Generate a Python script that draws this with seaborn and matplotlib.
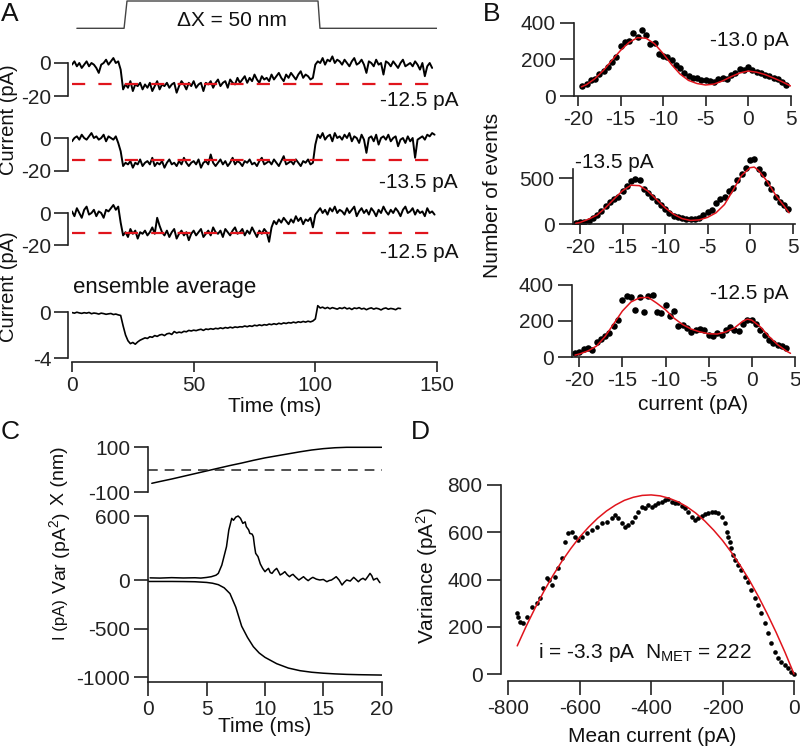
import numpy as np
import pandas as pd
import matplotlib
matplotlib.use("Agg")
import matplotlib.pyplot as plt
import seaborn as sns

# ---------------- data ----------------
# Panel A: stimulus (time ms, displacement nm)
stim_t = [2, 21.4, 22.6, 101.1, 101.9, 150]
stim_x = [0, 0, 50, 50, 0, 0]

# Panel A: single-channel traces, 1 ms sampling (pA)
trace1 = [-1, 1, -2, 0, -3, -1, 1, -2, 0, -1,
          -3, -6, -1, 0, 2, -1, 1, 3, 0, 1,
          -4, -16, -13, -15, -11, -17, -13, -14, -12, -16,
          -13, -15, -12, -17, -14, -11, -16, -13, -14, -12,
          -15, -13, -12, -18, -14, -11, -13, -16, -12, -14,
          -11, -15, -13, -12, -17, -12, -13, -11, -15, -12,
          -10, -14, -12, -11, -15, -10, -12, -13, -9, -12,
          -10, -8, -12, -9, -11, -7, -10, -12, -8, -10,
          -9, -11, -7, -10, -8, -6, -9, -11, -7, -9,
          -6, -8, -10, -7, -5, -9, -7, -8, -10, -9,
          -1, 1, 0, 3, -1, 2, 1, 4, 0, 2,
          1, -1, 2, 0, -2, 1, 3, -1, 0, 2,
          -1, -6, 1, 0, -2, 2, -1, 0, -7, 1,
          0, -2, 1, -1, -3, 0, 2, -2, -1, 0,
          -2, 1, -1, -4, 0, -8, -2, 0, -3]
trace2 = [-2, 0, 1, -1, 2, 0, -1, 1, 3, 0,
          1, -1, 0, 2, -2, 1, 0, -1, 1, -3,
          -8, -17, -15, -16, -14, -18, -15, -16, -13, -17,
          -15, -14, -16, -12, -17, -15, -16, -14, -18, -15,
          -13, -16, -15, -17, -14, -16, -12, -15, -17, -15,
          -14, -16, -13, -18, -15, -14, -16, -10, -15, -17,
          -15, -13, -16, -14, -17, -15, -12, -16, -14, -15,
          -17, -14, -15, -13, -16, -15, -17, -14, -12, -16,
          -15, -14, -16, -13, -15, -17, -14, -11, -16, -15,
          -14, -16, -13, -15, -17, -14, -15, -13, -16, -15,
          -4, 2, 0, 3, -1, 1, 2, -2, 3, 0,
          1, -1, 2, 0, 3, -2, 1, 0, -3, 2,
          -1, -9, 0, 1, -2, 2, -4, 0, 1, -1,
          2, -2, 0, 1, -5, -1, 0, -3, 1, -2,
          0, -12, -1, 0, 1, -1, 2, 1, 3, 2]
trace3 = [1, -2, 3, 0, -3, 2, 4, -1, 0, 2,
          -2, 1, 0, -3, 2, 1, 3, 5, 2, 4,
          -6, -14, -12, -15, -10, -13, -11, -16, -12, -13,
          -11, -14, -12, -9, -13, -3, -8, -12, -14, -11,
          -15, -12, -10, -16, -13, -11, -14, -12, -17, -13,
          -11, -14, -12, -10, -15, -13, -11, -14, -9, -12,
          -13, -11, -15, -10, -12, -14, -11, -9, -13, -12,
          -10, -14, -11, -13, -9, -12, -15, -11, -13, -10,
          -12, -18, -9, -5, -7, -4, -6, -3, -5, -7,
          -4, -6, -2, -5, -3, -7, -4, -5, -3, -9,
          -1, 1, 3, 0, 2, -1, 3, 1, 4, 0,
          2, 1, -1, 3, 0, 2, 4, -2, 1, 3,
          0, 2, -1, 3, 1, -2, 2, 0, 4, 1,
          -1, 2, 0, 3, 1, -2, 2, 4, 0, 1,
          3, -1, 2, 0, 1, -2, 3, 0, 1, -1]
unitary = [-12.5, -13.5, -12.5]
unitary_labels = ["-12.5 pA", "-13.5 pA", "-12.5 pA"]

ensemble = [-0.05, -0.1, -0.02, -0.08, -0.12, -0.06, -0.1, -0.04, -0.15, -0.09,
            -0.12, -0.18, -0.1, -0.14, -0.2, -0.16, -0.13, -0.22, -0.18, -0.25,
            -0.3, -1.2, -2.0, -2.5, -2.75, -2.65, -2.8, -2.6, -2.45, -2.35,
            -2.25, -2.3, -2.15, -2.2, -2.05, -2.12, -2.0, -1.95, -2.05, -1.9,
            -1.85, -1.95, -1.7, -1.82, -1.75, -1.8, -1.68, -1.72, -1.6, -1.65,
            -1.58, -1.62, -1.55, -1.5, -1.6, -1.48, -1.52, -1.45, -1.5, -1.42,
            -1.46, -1.38, -1.44, -1.35, -1.4, -1.32, -1.38, -1.3, -1.34, -1.28,
            -1.3, -1.22, -1.28, -1.2, -1.25, -1.15, -1.2, -1.12, -1.18, -1.1,
            -1.14, -1.05, -1.1, -1.02, -1.08, -0.98, -1.04, -0.95, -1.0, -0.92,
            -0.96, -0.88, -0.94, -0.85, -0.9, -0.82, -0.88, -0.8, -0.86, -0.78,
            -0.6, 0.55, 0.35, 0.42, 0.3, 0.4, 0.28, 0.38, 0.32, 0.25,
            0.36, 0.3, 0.4, 0.27, 0.34, 0.22, 0.35, 0.3, 0.38, 0.26,
            0.32, 0.2, 0.3, 0.36, 0.25, 0.33, 0.28, 0.18, 0.3, 0.35,
            0.24, 0.31, 0.27, 0.2, 0.33, 0.3]

# Panel B: amplitude histograms (current pA, number of events) and fits
B1_current = np.arange(-19.5, 4.6, 0.5)
B1_events = [55, 68, 85, 95, 120, 138, 160, 185, 215, 270,
             292, 300, 345, 320, 362, 330, 285, 290, 230, 220,
             215, 195, 170, 150, 125, 110, 98, 100, 88, 85,
             80, 75, 90, 100, 95, 115, 125, 145, 140, 160,
             140, 132, 125, 115, 108, 100, 92, 78, 62]
B1_fit_x = [-19.6, -19, -18, -17, -16, -15, -14, -13, -12, -11, -10, -9, -8,
            -7, -6, -5, -4, -3, -2, -1, 0, 1, 2, 3, 4, 5]
B1_fit_y = [50, 62, 95, 140, 195, 248, 292, 318, 315, 285, 232, 172, 120,
            85, 68, 60, 65, 82, 105, 125, 136, 130, 117, 98, 78, 55]

B2_current = np.arange(-20.5, 4.6, 0.5)
B2_events = [10, 22, 30, 40, 65, 100, 150, 195, 240, 280,
             300, 360, 420, 470, 495, 480, 380, 340, 300, 250,
             205, 165, 120, 95, 80, 66, 60, 55, 60, 70,
             100, 135, 155, 230, 275, 300, 360, 390, 480, 545,
             610, 700, 710, 600, 550, 450, 380, 300, 240, 205, 170]
B2_fit_x = [-20.5, -20, -19, -18, -17, -16, -15, -14, -13, -12, -11, -10, -9, -8,
            -7, -6, -5, -4, -3, -2, -1, 0, 0.5, 1, 2, 3, 4, 4.6]
B2_fit_y = [12, 20, 55, 100, 180, 275, 365, 425, 420, 360, 270, 180, 110, 62,
            42, 48, 75, 125, 215, 370, 530, 615, 622, 585, 470, 320, 200, 125]

B3_current = np.arange(-20.5, 4.1, 0.5)
B3_events = [25, 30, 45, 52, 38, 85, 100, 115, 135, 175,
             205, 315, 335, 330, 260, 330, 250, 340, 345, 250,
             245, 290, 230, 255, 170, 180, 160, 140, 150, 158,
             150, 125, 115, 135, 125, 150, 165, 150, 145, 185,
             208, 207, 185, 150, 125, 98, 80, 68, 60, 52]
B3_fit_x = [-20.5, -20, -19, -18, -17, -16, -15, -14, -13, -12, -11, -10, -9, -8,
            -7, -6, -5, -4, -3, -2, -1, -0.5, 0, 1, 2, 3, 4, 4.5]
B3_fit_y = [12, 18, 35, 62, 115, 185, 255, 305, 328, 330, 298, 262, 215, 180,
            155, 140, 130, 128, 140, 162, 200, 210, 205, 168, 115, 70, 35, 22]
B_labels = ["-13.0 pA", "-13.5 pA", "-12.5 pA"]

# Panel C: displacement, variance and current vs time
C_x_t = [0.3, 1, 2, 3, 4, 5, 6, 7, 8, 9, 10, 11, 12, 13, 14, 15, 16, 17, 18, 19, 20]
C_x_nm = [-60, -52, -41, -29, -17, -5, 7, 19, 30, 42, 53, 62, 71, 80, 88, 94, 98,
          100, 100, 100, 100]
C_var_t = [0.15, 1, 2, 3, 4, 4.5, 5.0, 5.4, 5.8, 6.0, 6.3, 6.7, 6.9, 7.15, 7.3, 7.5,
           7.7, 7.9, 8.1, 8.3, 8.4, 8.6, 8.7, 8.9, 9.0, 9.1, 9.2, 9.4, 9.6, 9.8,
           10.0, 10.15, 10.3, 10.45, 10.6, 10.8, 11.0, 11.15, 11.3, 11.5, 11.7, 11.9,
           12.1, 12.25, 12.4, 12.6, 12.9, 13.1, 13.3, 13.5, 13.7, 13.9, 14.1, 14.4,
           14.7, 15.0, 15.3, 15.5, 15.7, 15.9, 16.1, 16.35, 16.6, 16.8, 17.0, 17.3,
           17.6, 17.8, 18.0, 18.2, 18.4, 18.6, 18.8, 19.0, 19.15, 19.3, 19.45, 19.6,
           19.75, 19.85]
C_var = [20, 18, 22, 19, 21, 18, 24, 31, 45, 62, 140, 312, 469, 578, 560, 590,
         600, 578, 531, 545, 500, 470, 437, 430, 406, 320, 250, 219, 150, 109,
         78, 95, 109, 70, 62, 90, 109, 80, 47, 60, 78, 50,
         31, 45, 53, 30, 0, 15, 31, 10, -6, 12, 25, 8,
         0, 5, -16, -5, 0, 15, 31, 0, -47, -20, 0, -10,
         25, 5, -16, 5, 16, 0, 30, 62, 40, 0, 10, 16,
         -10, -25]
C_i_t = [0, 1, 2, 3, 4, 5, 5.5, 6, 6.5, 7, 7.5, 8, 8.5, 9, 9.5, 10, 11, 12, 13, 14,
         15, 16, 17, 18, 19, 20]
C_i = [-15, -15, -15, -16, -18, -25, -33, -48, -80, -140, -280, -475, -590, -685,
       -750, -795, -860, -905, -932, -948, -958, -965, -970, -973, -975, -977]

# Panel D: variance vs mean current, and parabolic fit
D_mean = [-777, -772, -768, -758, -749, -735, -721, -712, -702, -693,
          -685, -679, -670, -661, -651, -642, -632, -623, -614, -605,
          -595, -581, -567, -553, -539, -525, -511, -502, -493, -483,
          -474, -465, -455, -446, -437, -427, -418, -409, -399, -390,
          -381, -371, -362, -353, -343, -334, -325, -315, -306, -297,
          -287, -278, -269, -259, -250, -241, -231, -222, -213, -203,
          -194, -189, -185, -180, -176, -171, -166, -157, -148, -138,
          -129, -120, -110, -101, -92, -82, -73, -64, -54, -45,
          -36, -26, -17, -8, 0]
D_var = [257, 243, 222, 215, 243, 285, 300, 321, 363, 405,
         398, 377, 412, 448, 490, 560, 596, 603, 582, 568,
         582, 596, 610, 624, 638, 645, 659, 673, 659, 638,
         624, 631, 645, 666, 687, 708, 701, 716, 708, 716,
         723, 730, 737, 740, 730, 723, 723, 712, 701, 687,
         666, 652, 659, 669, 678, 683, 687, 687, 680, 666,
         638, 603, 582, 560, 532, 504, 483, 462, 441, 412,
         391, 356, 321, 292, 257, 215, 172, 130, 95, 66,
         52, 38, 24, 10, 0]
D_fit_x = np.arange(-775, 1, 25)
D_fit_y = [119, 202, 279, 351, 417, 477, 531, 580, 622, 659,
           690, 715, 735, 748, 756, 758, 754, 744, 729, 708,
           681, 648, 609, 565, 514, 458, 397, 329, 255, 176,
           91, 0]

# ---------------- style ----------------
sns.set_theme(style="ticks")
plt.rcParams.update({
    "font.family": ["Liberation Sans", "DejaVu Sans"],
    "axes.unicode_minus": False,
    "mathtext.default": "regular",
    "lines.scale_dashes": False,
    "axes.linewidth": 1.2,
    "axes.edgecolor": "#222222",
    "xtick.color": "#222222",
    "ytick.color": "#222222",
    "text.color": "#111111",
    "axes.labelcolor": "#111111",
})
RED = "#e0141c"
FS = 15

W, H = 800, 750
fig = plt.figure(figsize=(8, 7.5), dpi=100)
limits = []


def make_ax(left, right, top, bottom, xmap, ymap):
    ax = fig.add_axes([left / W, 1 - bottom / H, (right - left) / W, (bottom - top) / H])
    (xv0, xp0), (xv1, xp1) = xmap
    bx = (xp1 - xp0) / (xv1 - xv0)
    xl = (xv0 + (left - xp0) / bx, xv0 + (right - xp0) / bx)
    (yv0, yp0), (yv1, yp1) = ymap
    by = (yp1 - yp0) / (yv1 - yv0)
    yl = (yv0 + (bottom - yp0) / by, yv0 + (top - yp0) / by)
    ax.patch.set_alpha(0)
    for s in ("top", "right"):
        ax.spines[s].set_visible(False)
    ax.tick_params(axis="y", length=10, width=1.2, pad=3, labelsize=FS)
    ax.tick_params(axis="x", length=7, width=1.2, pad=3, labelsize=FS)
    limits.append((ax, xl, yl))
    return ax


def ftext(x, y, s, **kw):
    kw.setdefault("fontsize", FS)
    fig.text(x / W, 1 - y / H, s, **kw)


def line(ax, x, y, **kw):
    sns.lineplot(x=list(x), y=list(y), ax=ax, estimator=None, sort=False, **kw)


# ---------------- Panel A ----------------
xA = ((0, 72), (150, 437))
ax_s = make_ax(72, 437, 0, 30, xA, ((0, 28.3), (50, 1)))
line(ax_s, stim_t, stim_x, color="#444444", lw=1.0)
for s in ax_s.spines.values():
    s.set_visible(False)
ax_s.set_xticks([])
ax_s.set_yticks([])
ftext(232, 20, "ΔX = 50 nm", ha="center", va="center")

trace_rows = [(63, 96, 40, 105, 100), (138, 171, 115, 180, 182), (213, 245, 190, 255, 252)]
for tr, (p0, p20, top, bot, ly), u, lab in zip([trace1, trace2, trace3], trace_rows,
                                               unitary, unitary_labels):
    ax = make_ax(72, 437, top, bot, xA, ((0, p0), (-20, p20)))
    t = np.arange(len(tr))
    line(ax, t, tr, color="black", lw=1.4)
    line(ax, [0, 148], [u, u], color=RED, lw=1.6, linestyle=(0, (9.5, 9.5)))
    ax.spines["bottom"].set_visible(False)
    ax.set_xticks([])
    ax.spines["left"].set_bounds(-20, 0)
    ax.spines["left"].set_position(("outward", 3))
    ax.set_yticks([0, -20])
    ax.set_yticklabels(["0", "-20"])
    ax.tick_params(axis="y", pad=2)
    ftext(458, ly, lab, ha="right", va="center")

ax_e = make_ax(72, 437, 300, 362, xA, ((0, 312), (-4, 358)))
line(ax_e, np.arange(len(ensemble)), ensemble, color="black", lw=1.2)
ax_e.spines["left"].set_bounds(-4, 0)
ax_e.spines["left"].set_position(("outward", 3))
ax_e.set_yticks([0, -4])
ax_e.set_yticklabels(["0", "-4"])
ax_e.tick_params(axis="y", pad=2)
ax_e.spines["bottom"].set_bounds(0, 150)
ax_e.set_xticks([0, 50, 100, 150])
ftext(73, 288, "ensemble average", ha="left", va="center", fontsize=16)
ftext(275, 406, "Time (ms)", ha="center", va="center")
ftext(9, 120, "Current (pA)", rotation=90, ha="center", va="center", fontsize=14.5)
ftext(9, 287, "Current (pA)", rotation=90, ha="center", va="center", fontsize=14.5)

# ---------------- Panel B ----------------
B_specs = [
    (574, 791, 20, 96, ((-20, 578), (0, 748)), ((0, 96), (400, 22.6)), 400, [0, 200, 400]),
    (572.7, 795, 150, 224.3, ((-20, 580), (0, 750)), ((0, 224.3), (500, 178.3)), 600, [0, 500]),
    (571.7, 795, 280, 357.3, ((-20, 579.3), (0, 751.7)), ((0, 357.3), (200, 321)), 400, [0, 200, 400]),
]
B_data = [(B1_current, B1_events, B1_fit_x, B1_fit_y),
          (B2_current, B2_events, B2_fit_x, B2_fit_y),
          (B3_current, B3_events, B3_fit_x, B3_fit_y)]
for (l, r, t, b, xm, ym, ytop, yt), (cx, cy, fx, fy) in zip(B_specs, B_data):
    ax = make_ax(l, r, t, b, xm, ym)
    sns.scatterplot(x=cx, y=cy, ax=ax, color="black", s=22, linewidth=0, zorder=2)
    line(ax, fx, fy, color=RED, lw=1.1, zorder=3)
    ax.spines["left"].set_bounds(0, ytop)
    ax.set_yticks(yt)
    ax.set_xticks([-20, -15, -10, -5, 0, 5])
ftext(789, 40, B_labels[0], ha="right", va="center")
ftext(575, 162, B_labels[1], ha="left", va="center")
ftext(789, 293, B_labels[2], ha="right", va="center")
ftext(493, 195, "Number of events", rotation=90, ha="center", va="center")
ftext(693, 405, "current (pA)", ha="center", va="center")

# ---------------- Panel C ----------------
xC = ((0, 148.3), (20, 381.7))
ax_cx = make_ax(148.3, 382, 440, 493, xC, ((-100, 492.3), (100, 447.3)))
line(ax_cx, C_x_t, C_x_nm, color="black", lw=1.1)
line(ax_cx, [0, 20], [0, 0], color="#222222", lw=1.1, linestyle=(0, (7, 5)))
ax_cx.spines["bottom"].set_visible(False)
ax_cx.set_xticks([])
ax_cx.spines["left"].set_bounds(-100, 100)
ax_cx.set_yticks([100, -100])

ax_cv = make_ax(148.3, 382, 505, 600, xC, ((0, 580), (600, 516)))
line(ax_cv, C_var_t, C_var, color="black", lw=1.1)
ax_cv.spines["bottom"].set_visible(False)
ax_cv.set_xticks([])
ax_cv.spines["left"].set_bounds(0, 600)
ax_cv.set_yticks([600])

ax_ci = make_ax(148.3, 382, 578, 681.7, xC, ((0, 580), (-1000, 677.3)))
line(ax_ci, C_i_t, C_i, color="black", lw=1.1)
ax_ci.set_yticks([0, -500, -1000])
ax_ci.set_xticks([0, 5, 10, 15, 20])
ax_ci.tick_params(axis="x", length=10)
ftext(265, 727, "Time (ms)", ha="center", va="center")
ftext(60, 476, "X (nm)", rotation=90, ha="center", va="center", fontsize=14)
ftext(60, 553, "Var (pA$^2$)", rotation=90, ha="center", va="center", fontsize=14)
ftext(60, 620, "I (pA)", rotation=90, ha="center", va="center", fontsize=12)

# ---------------- Panel D ----------------
ax_d = make_ax(500.7, 797, 480, 680.7, ((-800, 508.3), (0, 794)), ((0, 674), (800, 485)))
sns.scatterplot(x=D_mean, y=D_var, ax=ax_d, color="black", s=11, linewidth=0, zorder=2)
line(ax_d, D_fit_x, D_fit_y, color=RED, lw=1.1, zorder=3)
ax_d.spines["left"].set_bounds(0, 800)
ax_d.spines["bottom"].set_bounds(-800, 0)
ax_d.set_xticks([-800, -600, -400, -200, 0])
ax_d.set_yticks([0, 200, 400, 600, 800])
ax_d.tick_params(axis="x", length=10)
ftext(645, 652, "i = -3.3 pA  N$_{MET}$ = 222", ha="center", va="center")
ftext(652, 736, "Mean current (pA)", ha="center", va="center")
ftext(427, 575, "Variance (pA$^2$)", rotation=90, ha="center", va="center")

# panel letters
for lx, ly, letter in [(10, 14, "A"), (492, 14, "B"), (10, 432, "C"), (420, 432, "D")]:
    ftext(lx, ly, letter, ha="center", va="center", fontsize=19)

# apply limits last
for ax, xl, yl in limits:
    ax.set_xlim(*xl)
    ax.set_ylim(*yl)
    ax.set_xlabel("")
    ax.set_ylabel("")
    if ax.get_legend() is not None:
        ax.get_legend().remove()

ax_ci.spines["left"].set_bounds(ax_ci.get_ylim()[0], 0)

fig.savefig("out.png", dpi=100)
